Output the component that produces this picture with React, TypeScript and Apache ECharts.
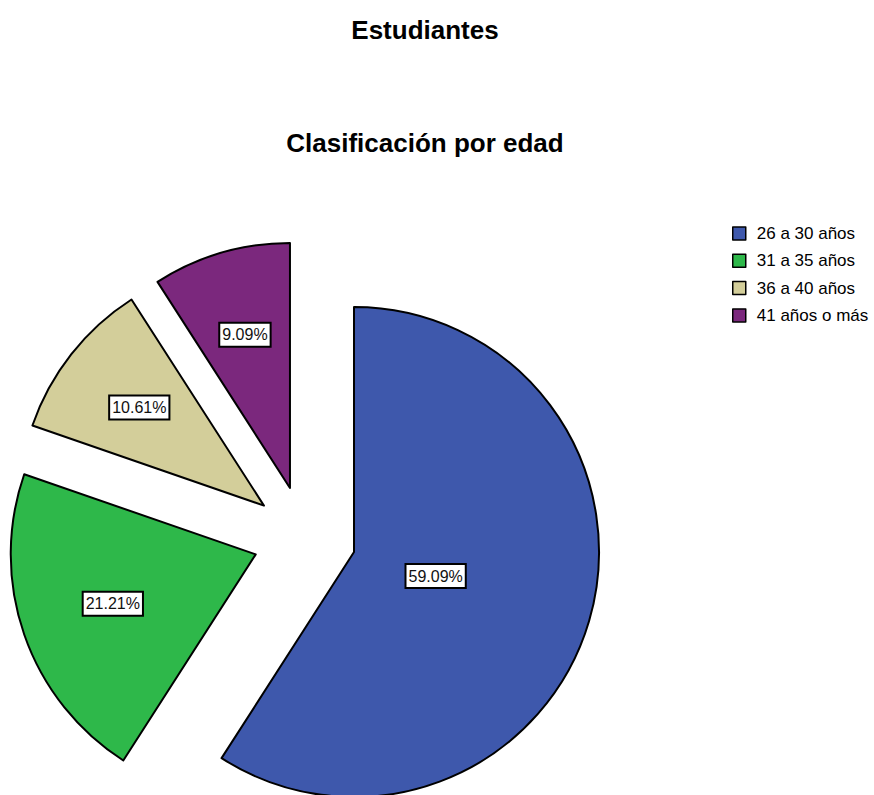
import React, { useEffect, useRef } from 'react';
import * as echarts from 'echarts';

const categories = ['26 a 30 años', '31 a 35 años', '36 a 40 años', '41 años o más'];
const counts = [39, 14, 7, 6];
const colors = ['#3E58AC', '#2EB84A', '#D3CE9A', '#7B287D'];
const mainTitle = 'Estudiantes';
const subTitle = 'Clasificación por edad';

const FONT = '"Liberation Sans", Arial, Helvetica, sans-serif';

export default function App() {
  const ref = useRef<HTMLDivElement>(null);
  useEffect(() => {
    const chart = echarts.init(ref.current!, null, { renderer: 'svg' });
    const total = counts.reduce((a, b) => a + b, 0);
    const mids: number[] = [];
    let acc = 0;
    counts.forEach((c) => {
      mids.push(((acc + c / 2) / total) * 2 * Math.PI);
      acc += c;
    });
    const R = 245;
    const labelDist = [0.335, 0.605, 0.635, 0.64];
    chart.setOption({
      animation: false,
      title: [
        {
          text: mainTitle,
          left: 425,
          top: 17,
          padding: 0,
          textAlign: 'center',
          textStyle: { fontSize: 26, fontWeight: 'bold', color: '#000', fontFamily: FONT },
        },
        {
          text: subTitle,
          left: 425,
          top: 130,
          padding: 0,
          textAlign: 'center',
          textStyle: { fontSize: 26, fontWeight: 'bold', color: '#000', fontFamily: FONT },
        },
      ],
      legend: {
        orient: 'vertical',
        left: 732,
        top: 225,
        padding: 0,
        itemWidth: 13,
        itemHeight: 13,
        itemGap: 10.3,
        icon: 'rect',
        selectedMode: false,
        itemStyle: { borderColor: '#000', borderWidth: 1.5 },
        textStyle: { fontSize: 17, color: '#000', fontFamily: FONT, padding: [0, 0, 0, 6] },
        data: categories,
      },
      series: [
        {
          type: 'pie',
          center: [304.5, 537.5],
          radius: [0, R],
          startAngle: 90,
          clockwise: true,
          selectedMode: 'multiple',
          selectedOffset: 51.6,
          avoidLabelOverlap: false,
          itemStyle: { borderColor: '#000', borderWidth: 2 },
          label: {
            show: true,
            position: 'inside',
            formatter: '{d}%',
            fontSize: 16,
            lineHeight: 18,
            color: '#111',
            fontFamily: FONT,
            backgroundColor: '#fff',
            borderColor: '#000',
            borderWidth: 2,
            padding: [2, 2],
          },
          labelLine: { show: false },
          labelLayout: (params: any) => {
            const i = params.dataIndex;
            const shift = (labelDist[i] - 0.5) * R;
            return { dx: Math.sin(mids[i]) * shift, dy: -Math.cos(mids[i]) * shift };
          },
          emphasis: { disabled: true },
          data: categories.map((n, i) => ({
            name: n,
            value: counts[i],
            selected: true,
            itemStyle: { color: colors[i] },
          })),
        },
      ],
    });
    return () => chart.dispose();
  }, []);
  return <div ref={ref} style={{ position: 'absolute', left: 0, top: 0, width: 874, height: 795 }} />;
}
